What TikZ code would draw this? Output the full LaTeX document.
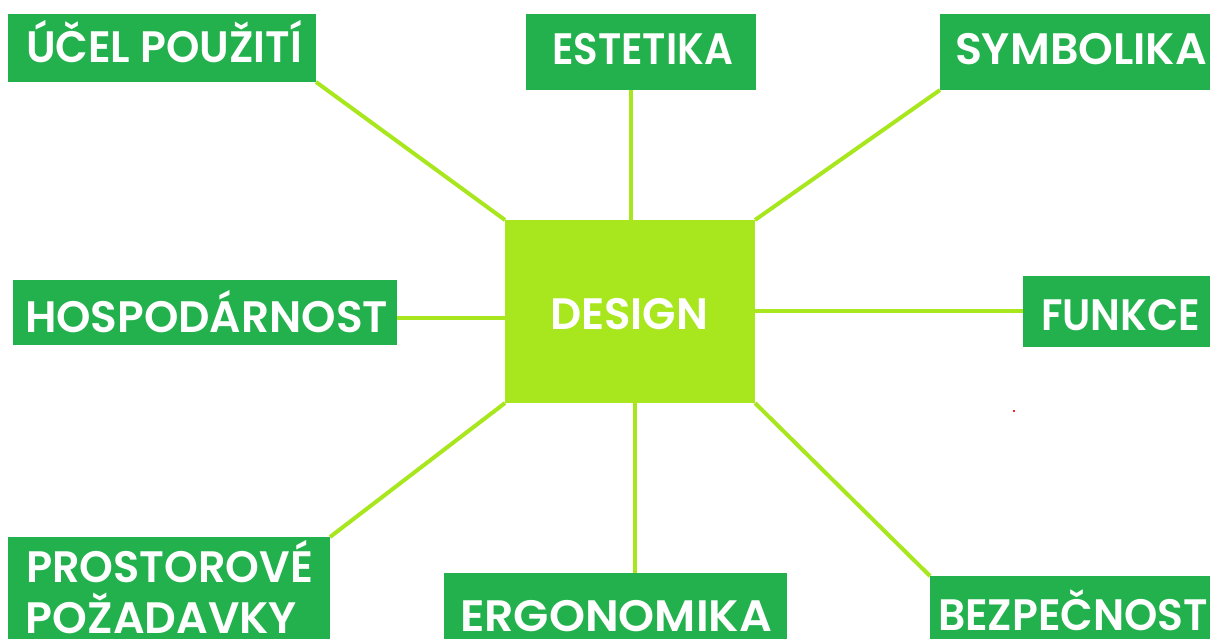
\documentclass[tikz,border=0pt]{standalone}
\usepackage{fontspec}
\usepackage{graphicx}
\setmainfont{Poppins}
\newfontfamily\lblfont{Poppins}[UprightFont={* SemiBold}]
\usetikzlibrary{backgrounds}
\definecolor{boxgreen}{HTML}{22B14C}
\definecolor{lime}{HTML}{A8E61D}
\definecolor{speck}{HTML}{FF2020}
% stretch a label horizontally to a given width (in pt), keeping its height
\newcommand\fitw[2]{\resizebox{#1pt}{\height}{#2}}
\begin{document}
\begin{tikzpicture}[x=1pt,y=-1pt,
  gbox/.style={rectangle, fill=boxgreen, draw=none, inner sep=0pt, outer sep=0pt},
  core/.style={rectangle, fill=lime, draw=none, inner sep=0pt, outer sep=0pt},
  lbl/.style={text=white, inner sep=0pt, outer sep=0pt, anchor=base west,
    font=\fontsize{44}{48}\lblfont},
  link/.style={draw=lime, line width=4pt}]
\useasboundingbox (0,0) rectangle (1210,639);

% central box
\node[core, minimum width=250, minimum height=183] (design) at (630,311.5) {};

% surrounding boxes
\node[gbox, minimum width=308, minimum height=68] (ucel) at (162,48) {};
\node[gbox, minimum width=230, minimum height=76] (estetika) at (641,52) {};
\node[gbox, minimum width=270, minimum height=76] (symbolika) at (1075,52) {};
\node[gbox, minimum width=384, minimum height=65] (hosp) at (205,312.5) {};
\node[gbox, minimum width=187, minimum height=71] (funkce) at (1116.5,311.5) {};
\node[gbox, minimum width=322, minimum height=102] (prostor) at (169,588) {};
\node[gbox, minimum width=343, minimum height=66] (ergo) at (615.5,606) {};
\node[gbox, minimum width=280, minimum height=63] (bezp) at (1070,607.5) {};

% labels
\node[lbl] (designt) at (550,329) {\fitw{158}{DESIGN}};
\node[lbl] (ucelt) at (26,63) {\fitw{276}{ÚČEL POUŽITÍ}};
\node[lbl] (estetikat) at (552,65) {\fitw{181}{ESTETIKA}};
\node[lbl] (symbolikat) at (955,65) {\fitw{252}{SYMBOLIKA}};
\node[lbl] (hospt) at (25,332) {\fitw{363}{HOSPODÁRNOST}};
\node[lbl] (funkcet) at (1041,330) {\fitw{159}{FUNKCE}};
\node[lbl] (prostort) at (26,582) {\fitw{287}{PROSTOROVÉ}};
\node[lbl] (pozadt) at (26,633) {\fitw{271}{POŽADAVKY}};
\node[lbl] (ergot) at (460,631) {\fitw{312}{ERGONOMIKA}};
\node[lbl] (bezpt) at (938,630) {\fitw{270}{BEZPEČNOST}};

% tiny red speck
\fill[speck] (1013,410) rectangle (1015,412);

% connectors behind the boxes
\begin{scope}[on background layer]
  \draw[link] (ucel.south east) -- (design.north west);
  \draw[link] ([xshift=1pt]design.north) -- ([xshift=1pt]design.north |- estetika.south);
  \draw[link] (symbolika.south west) -- (design.north east);
  \draw[link] ([yshift=-5.5pt]hosp.east) -- ([yshift=-5.5pt]hosp.east -| design.west);
  \draw[link] ([yshift=1pt]design.east) -- ([yshift=1pt]design.east -| funkce.west);
  \draw[link] (prostor.north east) -- (design.south west);
  \draw[link] ([xshift=4.5pt]design.south) -- ([xshift=4.5pt]design.south |- ergo.north);
  \draw[link] (design.south east) -- (bezp.north west);
\end{scope}
\end{tikzpicture}
\end{document}
